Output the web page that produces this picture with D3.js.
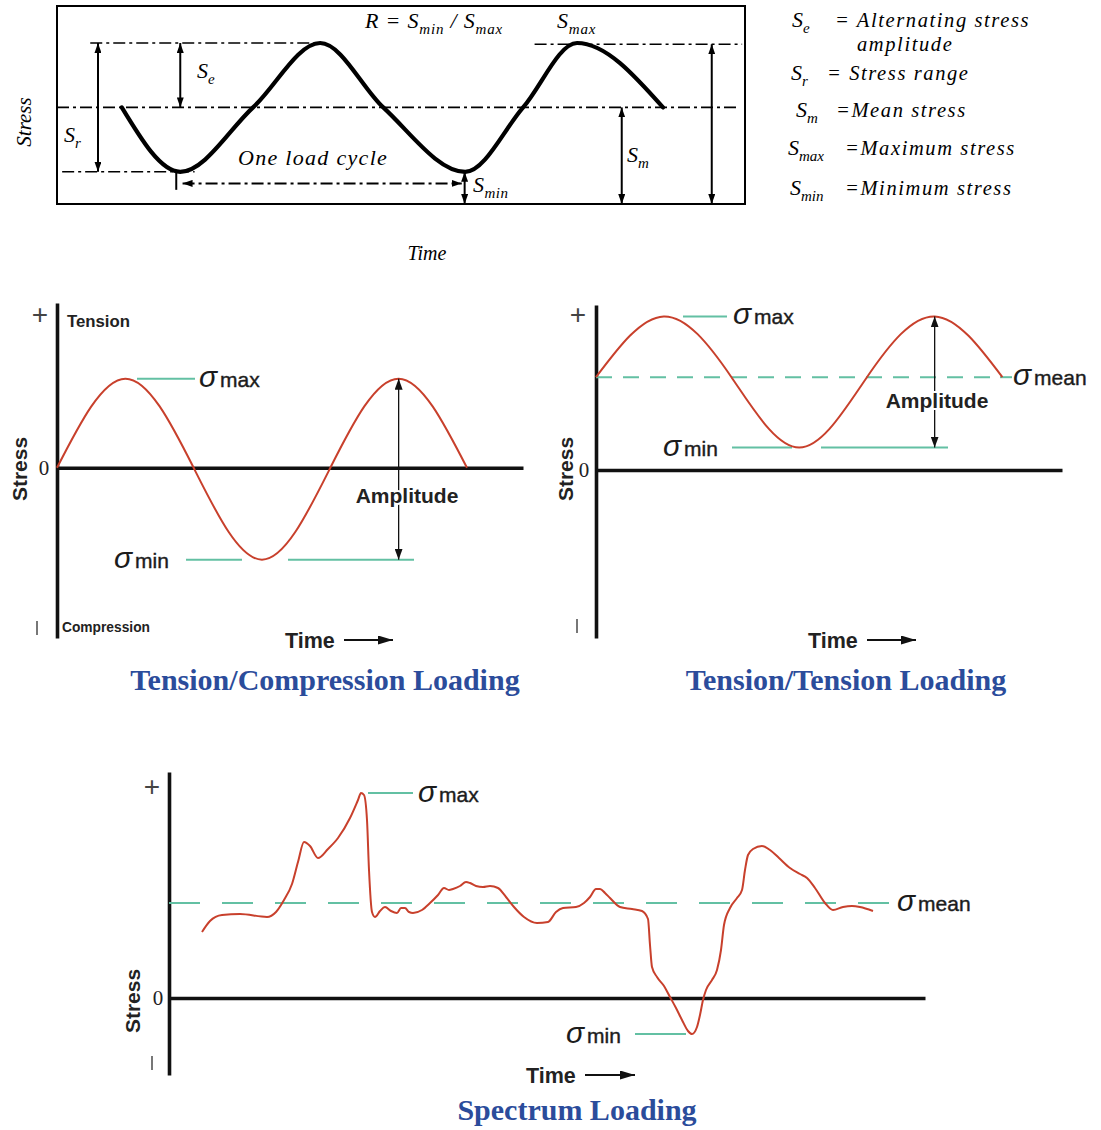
<!DOCTYPE html>
<html>
<head>
<meta charset="utf-8">
<script src="https://cdn.jsdelivr.net/npm/d3@7"></script>
<style>
  body { margin: 0; background: #fff; }
  .it { font-family: "Liberation Serif", "Times New Roman", serif; font-style: italic; }
  .sans { font-family: "Liberation Sans", Arial, sans-serif; }
  .title { font-family: "Liberation Serif", serif; font-weight: bold; font-size: 30px; fill: #2b4c9b; }
</style>
</head>
<body>
<svg id="chart" width="1101" height="1130"></svg>
<script>
// top panel: one constant amplitude cycle (time, stress in arbitrary units)
const cycleTime   = [1.13, 2.15, 3.42, 4.59, 5.69, 7.12, 8.13, 9.07, 10.57];
const cycleStress = [1.5, 0.5, 1.5, 2.5, 1.5, 0.5, 1.5, 2.5, 1.5];
const sMax = 2.5, sMean = 1.5, sMin = 0.5;

// tension / compression loading (time in quarter cycles)
const tcTime   = [0, 1, 2, 3, 4, 5, 6];
const tcStress = [0, 0.99, 0, -1.02, 0, 0.99, 0];

// tension / tension loading
const ttTime   = [0, 1, 2, 3, 4, 5, 6];
const ttStress = [1.45, 2.4, 1.45, 0.35, 1.45, 2.4, 1.45];
const ttMean = 1.45;

// spectrum loading
const spTime = [3.3, 4.1, 5.3, 7.1, 9.8, 10.7, 11.5, 12.3, 12.9, 13.5, 14.1, 14.9, 15.9, 16.9, 18.1, 18.9,
  19.2, 19.5, 19.8, 20.0, 20.3, 20.6, 21.1, 21.6, 22.2, 22.8, 23.2, 23.6, 24.0, 24.4, 25.3, 26.1, 26.9,
  27.5, 28.0, 28.4, 29.1, 29.7, 30.1, 30.7, 31.4, 32.1, 32.9, 33.7, 34.5, 35.5, 36.8, 37.9, 38.7, 39.4,
  40.7, 41.5, 42.1, 42.7, 43.1, 43.6, 44.1, 45.1, 46.3, 47.3, 47.9, 48.1, 48.3, 48.8, 49.5, 50.1, 50.7,
  51.3, 51.9, 52.3, 52.8, 53.1, 53.4, 53.7, 54.3, 54.8, 55.2, 55.5, 56.1, 56.8, 57.3, 57.6, 57.9, 58.4,
  59.3, 60.1, 61.0, 62.1, 63.1, 63.8, 64.6, 65.6, 66.4, 67.4, 68.3, 69.1, 70.4];
const spStress = [6.6, 7.7, 8.3, 8.4, 8.1, 8.6, 9.8, 11.4, 13.6, 15.6, 15.2, 14.0, 14.9, 16.0, 18.0, 19.8,
  20.5, 20.3, 17.8, 12.8, 8.6, 8.1, 8.7, 9.1, 8.7, 8.5, 9.0, 9.0, 8.6, 8.5, 8.8, 9.5, 10.3,
  11.0, 10.8, 10.9, 11.2, 11.6, 11.5, 11.2, 11.1, 11.2, 11.0, 10.1, 9.1, 8.1, 7.5, 7.6, 8.6, 9.0,
  9.1, 9.5, 10.1, 10.9, 10.9, 10.5, 10.0, 9.1, 8.9, 8.7, 7.9, 5.3, 3.1, 2.1, 1.2, 0.1, -1.0,
  -2.2, -3.3, -3.6, -2.9, -1.7, -0.2, 0.8, 1.8, 2.8, 4.8, 7.3, 9.0, 10.0, 10.8, 12.8, 14.3, 14.9,
  15.2, 14.8, 14.0, 13.0, 12.4, 12.0, 11.0, 9.5, 8.8, 9.1, 9.2, 9.1, 8.7];
const spMean = 9.5, spMax = 20.5, spMin = -3.6;

const legendSymbols = [["S", "e"], ["S", "r"], ["S", "m"], ["S", "max"], ["S", "min"]];
const legendTexts = ["= Alternating stress", "= Stress range", "=Mean stress", "=Maximum stress", "=Minimum stress"];
const panelTitles = ["Tension/Compression Loading", "Tension/Tension Loading", "Spectrum Loading"];

const red = "#c8402c", teal = "#63c0a3";
const svg = d3.select("#chart");
const defs = svg.append("defs");

function arrowMarker(id, w, h, color) {
  defs.append("marker")
    .attr("id", id)
    .attr("viewBox", `0 0 ${w} ${h}`)
    .attr("refX", w).attr("refY", h / 2)
    .attr("markerWidth", w).attr("markerHeight", h)
    .attr("markerUnits", "userSpaceOnUse")
    .attr("orient", "auto-start-reverse")
    .append("path")
    .attr("d", `M0,0L${w},${h / 2}L0,${h}Z`)
    .attr("fill", color);
}
arrowMarker("ahTop", 10, 7, "#000");
arrowMarker("ahAmp", 11, 8, "#111");
arrowMarker("ahTime", 15, 9, "#111");

function line(g, x1, y1, x2, y2) {
  return g.append("line").attr("x1", x1).attr("y1", y1).attr("x2", x2).attr("y2", y2);
}

// text with subscripts: parts = [[string, isSub], ...]
function rich(g, x, y, parts, size, cls) {
  const t = g.append("text").attr("x", x).attr("y", y).attr("class", cls).style("font-size", size + "px");
  let down = false;
  parts.forEach(([s, sub]) => {
    const ts = t.append("tspan").text(s);
    if (sub) {
      ts.style("font-size", Math.round(size * 0.7) + "px");
      if (!down) { ts.attr("dy", size * 0.25); down = true; }
    } else if (down) {
      ts.attr("dy", -size * 0.25); down = false;
    }
  });
  return t;
}

// ================= top panel =================
const gTop = svg.append("g");
const xT = d3.scaleLinear([0, 12], [57, 745]);
const yT = d3.scaleLinear([0, 2.5], [204, 43]);

gTop.append("rect")
  .attr("x", xT(0)).attr("y", 6)
  .attr("width", xT(12) - xT(0)).attr("height", yT(0) - 6)
  .attr("fill", "none").attr("stroke", "#000").attr("stroke-width", 2);

const guides = [[0.58, 4.59, sMax], [8.33, 11.95, sMax - 0.02], [0, 11.9, sMean], [0.09, 2.4, sMin]];
guides.forEach(([a, b, s]) => {
  line(gTop, xT(a), yT(s), xT(b), yT(s))
    .attr("stroke", "#000").attr("stroke-width", 1.6).attr("stroke-dasharray", "12,4,3,4");
});

gTop.append("path")
  .datum(cycleTime.map((t, i) => [t, cycleStress[i]]))
  .attr("fill", "none").attr("stroke", "#000").attr("stroke-width", 4.2)
  .attr("stroke-linecap", "round")
  .attr("d", d3.line().x(d => xT(d[0])).y(d => yT(d[1])).curve(d3.curveMonotoneX));

const vArrows = [[0.715, sMax, sMin], [2.15, sMax, sMean], [7.11, sMin, 0], [9.85, sMean, 0], [11.42, sMax - 0.02, 0]];
vArrows.forEach(([t, a, b]) => {
  line(gTop, xT(t), yT(a), xT(t), yT(b))
    .attr("stroke", "#000").attr("stroke-width", 2)
    .attr("marker-start", "url(#ahTop)").attr("marker-end", "url(#ahTop)");
});
line(gTop, xT(2.19), yT(0.32), xT(7.06), yT(0.32))
  .attr("stroke", "#000").attr("stroke-width", 2).attr("stroke-dasharray", "12,4,3,4")
  .attr("marker-start", "url(#ahTop)").attr("marker-end", "url(#ahTop)");
line(gTop, xT(2.08), yT(sMin), xT(2.08), yT(0.22)).attr("stroke", "#000").attr("stroke-width", 2);

rich(gTop, 365, 28, [["R = S", 0], ["min", 1], [" / S", 0], ["max", 1]], 22, "it").style("letter-spacing", "0.8px");
rich(gTop, 557, 28, [["S", 0], ["max", 1]], 22, "it").style("letter-spacing", "0.8px");
rich(gTop, 197, 78, [["S", 0], ["e", 1]], 22, "it");
rich(gTop, 64, 142, [["S", 0], ["r", 1]], 22, "it");
rich(gTop, 627, 162, [["S", 0], ["m", 1]], 22, "it");
rich(gTop, 473, 192, [["S", 0], ["min", 1]], 22, "it").style("letter-spacing", "0.5px");
gTop.append("text").attr("class", "it").attr("x", 238).attr("y", 165)
  .style("font-size", "22px").style("letter-spacing", "1.3px").text("One load cycle");
gTop.append("text").attr("class", "it").attr("transform", "translate(31,122) rotate(-90)")
  .attr("text-anchor", "middle").style("font-size", "21px").text("Stress");
gTop.append("text").attr("class", "it").attr("x", 427).attr("y", 260)
  .attr("text-anchor", "middle").style("font-size", "20px").text("Time");

// legend
const legendY = [27, 80, 117, 155, 195];
const legendSymX = [792, 791, 796, 788, 790];
const legendTextX = [835, 827, 836, 845, 845];
legendSymbols.forEach((p, i) => {
  rich(gTop, legendSymX[i], legendY[i], [[p[0], 0], [p[1], 1]], 22, "it");
  gTop.append("text").attr("class", "it").attr("x", legendTextX[i]).attr("y", legendY[i])
    .style("font-size", "20.5px").style("letter-spacing", "1.6px").text(legendTexts[i]);
});
gTop.append("text").attr("class", "it").attr("x", 857).attr("y", 51)
  .style("font-size", "20.5px").style("letter-spacing", "1.6px").text("amplitude");

// ================= shared panel helpers =================
function axes(g, x, y) {
  const ax = g.append("g").attr("transform", `translate(${x(0)},0)`)
    .call(d3.axisLeft(y).tickValues([]).tickSizeOuter(0));
  ax.select(".domain").attr("stroke", "#111").attr("stroke-width", 3.6);
  const zx = g.append("g").attr("transform", `translate(0,${y(0)})`)
    .call(d3.axisBottom(x).tickValues([]).tickSizeOuter(0));
  zx.select(".domain").attr("stroke", "#111").attr("stroke-width", 3.6);
}
function sigma(g, x, y, sub) {
  const t = g.append("text").attr("class", "sans").attr("x", x).attr("y", y).attr("fill", "#1c1c1c");
  t.append("tspan").style("font-size", "30px").style("font-style", "italic").text("σ");
  t.append("tspan").attr("dx", 3).style("font-size", "21px")
    .attr("stroke", "#1c1c1c").attr("stroke-width", 0.4).text(sub);
}
function signs(g, plusX, plusY, zeroX, zeroY, minusX, minusY) {
  g.append("text").attr("class", "sans").attr("x", plusX).attr("y", plusY + 9)
    .attr("text-anchor", "middle").style("font-size", "28px").style("font-weight", "300").attr("fill", "#444").text("+");
  g.append("text").attr("x", zeroX).attr("y", zeroY + 7).attr("text-anchor", "middle")
    .style("font-family", "Liberation Serif").style("font-size", "21px").attr("fill", "#222").text("0");
  line(g, minusX, minusY - 7, minusX, minusY + 7).attr("stroke", "#555").attr("stroke-width", 1.6);
}
function stressLabel(g, x, y) {
  g.append("text").attr("class", "sans").attr("transform", `translate(${x},${y}) rotate(-90)`)
    .attr("text-anchor", "middle").style("font-size", "21px").style("font-weight", "bold")
    .attr("fill", "#222").text("Stress");
}
function timeLabel(g, x, y, ax1, ax2) {
  g.append("text").attr("class", "sans").attr("x", x).attr("y", y + 8)
    .style("font-size", "21.5px").style("font-weight", "bold").attr("fill", "#222").text("Time");
  line(g, ax1, y, ax2, y).attr("stroke", "#111").attr("stroke-width", 2).attr("marker-end", "url(#ahTime)");
}
function ampArrow(g, x, y1, y2, lx, ly) {
  line(g, x, y1, x, y2).attr("stroke", "#111").attr("stroke-width", 1.3)
    .attr("marker-start", "url(#ahAmp)").attr("marker-end", "url(#ahAmp)");
  g.append("text").attr("class", "sans").attr("x", lx).attr("y", ly).attr("text-anchor", "middle")
    .style("font-size", "21px").style("font-weight", "bold").attr("fill", "#222")
    .attr("stroke", "#fff").attr("stroke-width", 4).attr("paint-order", "stroke").text("Amplitude");
}
function tealLine(g, x1, x2, y, dash) {
  const l = line(g, x1, y, x2, y).attr("stroke", teal).attr("stroke-width", 2);
  if (dash) l.attr("stroke-dasharray", dash);
  return l;
}

// ================= tension / compression =================
const g2 = svg.append("g");
const x2 = d3.scaleLinear([0, 6.82], [57, 523]);
const y2 = d3.scaleLinear([-1.89, 1.83], [638, 303]);
axes(g2, x2, y2);
tealLine(g2, 137, 195, y2(0.99));
tealLine(g2, 186, 242, y2(-1.02));
tealLine(g2, 288, 414, y2(-1.02));
g2.append("path")
  .datum(tcTime.map((t, i) => [t, tcStress[i]]))
  .attr("fill", "none").attr("stroke", red).attr("stroke-width", 2)
  .attr("d", d3.line().x(d => x2(d[0])).y(d => y2(d[1])).curve(d3.curveNatural));
ampArrow(g2, x2(5), y2(0.99), y2(-1.02), 407, 503);
sigma(g2, 199, y2(0.99) + 8, "max");
sigma(g2, 114, y2(-1.02) + 8, "min");
signs(g2, 40, 315, 44, y2(0), 37, 628);
g2.append("text").attr("class", "sans").attr("x", 67).attr("y", 327)
  .style("font-size", "16px").style("font-weight", "bold").attr("fill", "#222")
  .attr("textLength", 63).attr("lengthAdjust", "spacingAndGlyphs").text("Tension");
g2.append("text").attr("class", "sans").attr("x", 62).attr("y", 632)
  .style("font-size", "15px").style("font-weight", "bold").attr("fill", "#222")
  .attr("textLength", 88).attr("lengthAdjust", "spacingAndGlyphs").text("Compression");
stressLabel(g2, 27, 469);
timeLabel(g2, 285, 640, 344, 393);
g2.append("text").attr("class", "title").attr("x", 325).attr("y", 690).attr("text-anchor", "middle").text(panelTitles[0]);

// ================= tension / tension =================
const g3 = svg.append("g");
const x3 = d3.scaleLinear([0, 6.88], [596, 1062]);
const y3 = d3.scaleLinear([-2.625, 2.578], [638, 305]);
axes(g3, x3, y3);
tealLine(g3, x3(0), 1000, y3(ttMean), "16,11");
tealLine(g3, 1000, 1012, y3(ttMean));
tealLine(g3, 683, 727, y3(2.4));
tealLine(g3, 732, 792, y3(0.35));
tealLine(g3, 821, 948, y3(0.35));
g3.append("path")
  .datum(ttTime.map((t, i) => [t, ttStress[i]]))
  .attr("fill", "none").attr("stroke", red).attr("stroke-width", 2)
  .attr("d", d3.line().x(d => x3(d[0])).y(d => y3(d[1])).curve(d3.curveNatural));
ampArrow(g3, x3(5), y3(2.4), y3(0.35), 937, 408);
sigma(g3, 733, y3(2.4) + 8, "max");
sigma(g3, 663, y3(0.35) + 8, "min");
sigma(g3, 1013, y3(ttMean) + 8, "mean");
signs(g3, 578, 315, 584, y3(0), 577, 626);
stressLabel(g3, 573, 469);
timeLabel(g3, 808, 640, 867, 916);
g3.append("text").attr("class", "title").attr("x", 846).attr("y", 690).attr("text-anchor", "middle").text(panelTitles[1]);

// ================= spectrum =================
const g4 = svg.append("g");
const x4 = d3.scaleLinear([0, 75.6], [169, 925]);
const y4 = d3.scaleLinear([-7.7, 22.6], [1075, 772]);
axes(g4, x4, y4);
tealLine(g4, x4(0), 891, y4(spMean), "31,22");
tealLine(g4, 368, 413, y4(spMax));
tealLine(g4, 635, 686, y4(spMin));
g4.append("path")
  .datum(spTime.map((t, i) => [t, spStress[i]]))
  .attr("fill", "none").attr("stroke", red).attr("stroke-width", 2)
  .attr("d", d3.line().x(d => x4(d[0])).y(d => y4(d[1])).curve(d3.curveMonotoneX));
sigma(g4, 418, y4(spMax) + 9, "max");
sigma(g4, 566, y4(spMin) + 9, "min");
sigma(g4, 897, y4(spMean) + 8, "mean");
signs(g4, 152, 787, 158, y4(0), 152, 1063);
stressLabel(g4, 140, 1001);
timeLabel(g4, 526, 1075, 585, 635);
g4.append("text").attr("class", "title").attr("x", 577).attr("y", 1120).attr("text-anchor", "middle").text(panelTitles[2]);
</script>
</body>
</html>
